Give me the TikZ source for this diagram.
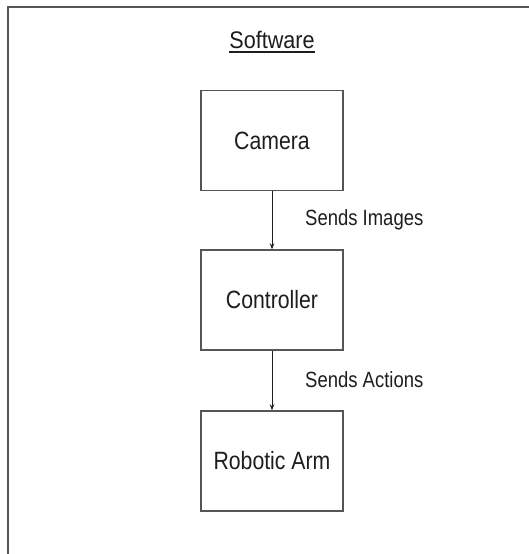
\documentclass[tikz,border=0pt]{standalone}
\usepackage{fontspec}
\setmainfont{Liberation Sans}
\usetikzlibrary{arrows.meta}
\definecolor{edge}{HTML}{555555}
\definecolor{ink}{HTML}{1E1E1E}
\tikzset{
  stage/.style={draw=edge, line width=1.4pt, minimum width=142pt, minimum height=100pt,
                inner sep=0pt, text=ink, font=\fontsize{25}{29}\selectfont},
  flow/.style={draw=ink, line width=1pt, -{Stealth[length=6pt,width=4.5pt]}},
  tag/.style={anchor=west, text=ink, inner sep=0pt, font=\fontsize{22}{26}\selectfont},
}
\begin{document}
\begin{tikzpicture}[x=1pt,y=1pt]
  \useasboundingbox (0,0) rectangle (529,-554);
  \fill[white] (0,0) rectangle (529,-554);
  % enclosing frame
  \draw[edge, line width=1.8pt] (8,-554) -- (8,-7) -- (529,-7);
  % heading
  \node[text=ink, inner sep=0pt, anchor=base, font=\fontsize{24}{28}\selectfont]
    (title) at (272,-48) {\scalebox{0.9}[1]{Software}};
  \draw[ink, line width=1.3pt] ([yshift=-4pt]title.base west) -- ([yshift=-4pt]title.base east);
  % stages
  \node[stage] (cam) at (272,-140.5) {\scalebox{0.85}[1]{Camera}};
  \node[stage] (ctl) at (272,-300) {\scalebox{0.85}[1]{Controller}};
  \node[stage] (arm) at (272,-461) {\scalebox{0.85}[1]{Robotic Arm}};
  % connectors
  \draw[flow] (cam.south) -- (ctl.north);
  \draw[flow] (ctl.south) -- (arm.north);
  \node[tag] (lblA) at (305,-220) {\scalebox{0.84}[1]{Sends Images}};
  \node[tag] (lblB) at (305,-380) {\scalebox{0.84}[1]{Sends Actions}};
\end{tikzpicture}
\end{document}
